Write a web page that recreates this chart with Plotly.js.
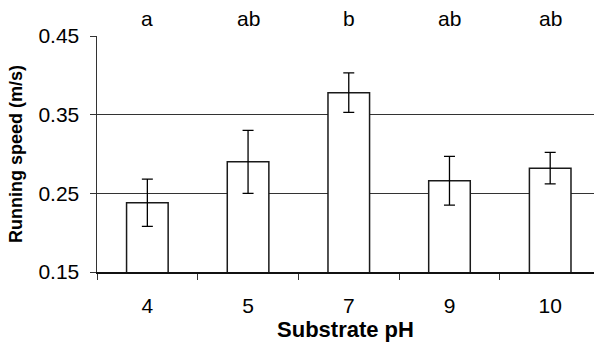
<!DOCTYPE html>
<html>
<head>
<meta charset="utf-8">
<script src="https://cdn.plot.ly/plotly-3.0.1.min.js"></script>
<style>html,body{margin:0;padding:0;background:#fff;}#chart{width:594px;height:342px;}</style>
</head>
<body>
<div id="chart"></div>
<script>
const categories = ["4", "5", "7", "9", "10"];
const speeds = [0.238, 0.290, 0.378, 0.266, 0.282];
const errors = [0.030, 0.040, 0.025, 0.031, 0.020];
const groupLetters = ["a", "ab", "b", "ab", "ab"];

const trace = {
  type: "bar",
  x: categories,
  y: speeds,
  width: 0.413,
  marker: {color: "#ffffff", line: {color: "#1a1a1a", width: 1.5}},
  error_y: {type: "data", array: errors, visible: true, color: "#000000", thickness: 1.3, width: 5.5},
  hoverinfo: "skip"
};

const annotations = categories.map((c, i) => ({
  x: i, xref: "x", y: 1, yref: "paper", yanchor: "bottom", yshift: 4,
  text: groupLetters[i], showarrow: false,
  font: {family: "Liberation Sans, Arial, sans-serif", size: 21, color: "#000"}
}));

const layout = {
  width: 594, height: 342,
  margin: {l: 97, r: 0, t: 36, b: 70},
  paper_bgcolor: "#fff", plot_bgcolor: "#fff",
  showlegend: false,
  font: {family: "Liberation Sans, Arial, sans-serif", color: "#000"},
  xaxis: {
    type: "category",
    range: [-0.5, 4.435],
    showline: true, linecolor: "#111", linewidth: 2,
    ticks: "outside", tickson: "boundaries", ticklen: 6, tickcolor: "#333", tickwidth: 1,
    ticklabelstandoff: 14,
    showgrid: false,
    tickfont: {size: 21},
    title: {text: "<b>Substrate pH</b>", font: {size: 22}, standoff: 1}
  },
  yaxis: {
    range: [0.15, 0.45],
    tickvals: [0.15, 0.25, 0.35, 0.45],
    ticktext: ["0.15", "0.25", "0.35", "0.45"],
    showline: true, linecolor: "#333", linewidth: 1.5,
    ticks: "outside", ticklen: 6, tickcolor: "#333", tickwidth: 1,
    ticklabelstandoff: 6,
    showgrid: true, gridcolor: "#333", gridwidth: 1,
    zeroline: false,
    tickfont: {size: 21},
    title: {text: "<b>Running speed (m/s)</b>", font: {size: 18}, standoff: 11}
  },
  annotations: annotations
};

Plotly.newPlot("chart", [trace], layout, {displayModeBar: false, staticPlot: true});
</script>
</body>
</html>
